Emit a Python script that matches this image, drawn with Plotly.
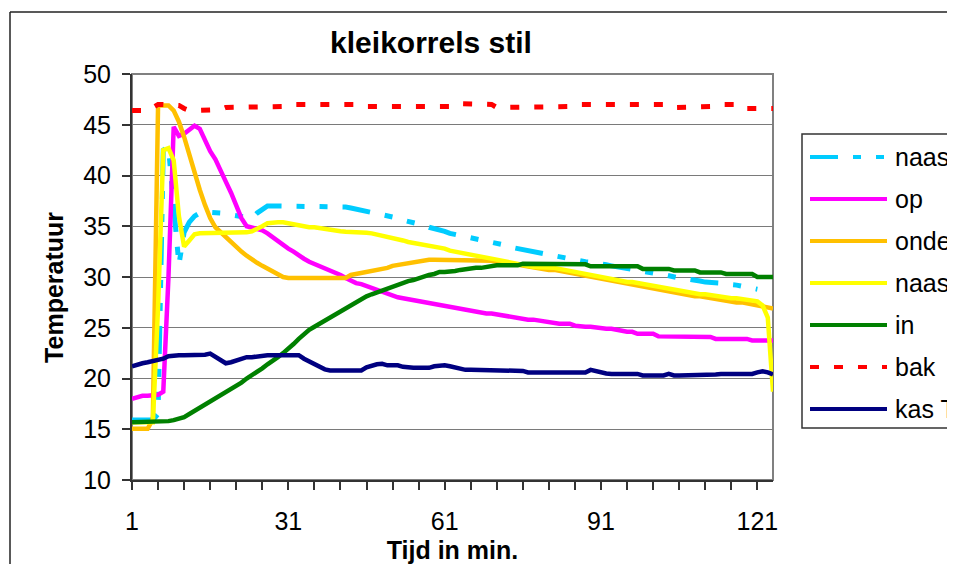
import plotly.graph_objects as go

# ---------------- data ----------------
minutes = list(range(1, 125))
x_tick_values = [1, 31, 61, 91, 121]
x_tick_labels = ["1", "31", "61", "91", "121"]
series_names = ["naast", "op", "onder", "naast", "in", "bak", "kas T"]

naast_1 = [
    15.9, 15.9, 15.9, 15.9, 15.9, 16.5, 42.5, 42.8, 36.5, 31.2,
    34.4, 35.4, 36.0, 36.3, 36.4, 36.4, 36.3, 36.3, 36.2, 36.1,
    36.0, 35.9, 35.8, 35.8, 36.3, 36.7, 37.0, 37.0, 37.0, 37.0,
    37.0, 37.0, 37.0, 37.0, 36.9, 36.9, 36.9, 36.9, 36.9, 36.9,
    36.9, 36.9, 36.8, 36.7, 36.6, 36.5, 36.4, 36.3, 36.2, 36.0,
    35.9, 35.8, 35.6, 35.5, 35.4, 35.2, 35.1, 34.9, 34.8, 34.6,
    34.5, 34.3, 34.2, 34.1, 34.0, 33.9, 33.8, 33.7, 33.6, 33.4,
    33.3, 33.2, 33.0, 32.9, 32.8, 32.6, 32.5, 32.4, 32.3, 32.2,
    32.2, 32.1, 32.0, 31.9, 31.7, 31.6, 31.6, 31.5, 31.45, 31.4,
    31.3, 31.2, 31.1, 31.0, 30.9, 30.8, 30.7, 30.65, 30.6, 30.5,
    30.4, 30.3, 30.25, 30.1, 30.0, 29.9, 29.85, 29.8, 29.7, 29.6,
    29.5, 29.5, 29.4, 29.4, 29.3, 29.3, 29.2, 29.1, 29.0, 28.9,
    28.8, None, None, None,
]
op = [
    18.0, 18.2, 18.3, 18.3, 18.3, 18.4, 18.7, 30.0, 44.8, 43.9,
    44.1, 44.5, 44.9, 44.6, 43.4, 42.4, 41.6, 40.6, 39.4, 38.3,
    37.0, 35.8, 35.0, 34.9, 34.8, 34.6, 34.3, 33.9, 33.5, 33.1,
    32.8, 32.5, 32.1, 31.8, 31.5, 31.3, 31.1, 30.9, 30.7, 30.4,
    30.2, 29.9, 29.6, 29.4, 29.3, 29.1, 28.9, 28.8, 28.6, 28.4,
    28.2, 28.0, 27.9, 27.8, 27.7, 27.6, 27.5, 27.4, 27.3, 27.2,
    27.1, 27.0, 26.9, 26.8, 26.7, 26.7, 26.6, 26.5, 26.4, 26.4,
    26.3, 26.3, 26.2, 26.05, 26.0, 25.9, 25.8, 25.8, 25.7, 25.6,
    25.6, 25.5, 25.4, 25.4, 25.4, 25.2, 25.1, 25.1, 25.1, 25.0,
    24.9, 24.9, 24.9, 24.8, 24.6, 24.6, 24.6, 24.4, 24.4, 24.4,
    24.4, 24.15, 24.15, 24.15, 24.15, 24.15, 24.15, 24.15, 24.15, 24.15,
    24.1, 24.1, 23.9, 23.9, 23.9, 23.9, 23.9, 23.9, 23.9, 23.75,
    23.75, 23.75, 23.75, 23.75,
]
onder = [
    15.05, 15.05, 15.05, 15.05, 16.0, 46.9, 46.9, 46.9, 46.4, 45.3,
    43.8, 42.0, 40.3, 38.6, 37.1, 35.8, 34.9, 34.4, 33.9, 33.4,
    32.9, 32.5, 32.1, 31.7, 31.4, 31.1, 30.8, 30.5, 30.2, 30.0,
    29.9, 29.9, 29.9, 29.9, 29.9, 29.9, 29.9, 29.9, 29.9, 29.9,
    29.9, 29.9, 30.2, 30.3, 30.3, 30.4, 30.5, 30.6, 30.8, 30.9,
    31.1, 31.2, 31.3, 31.4, 31.5, 31.6, 31.7, 31.7, 31.7, 31.7,
    31.7, 31.7, 31.7, 31.7, 31.7, 31.7, 31.7, 31.7, 31.7, 31.6,
    31.5, 31.5, 31.4, 31.3, 31.2, 31.1, 31.0, 30.9, 30.8, 30.8,
    30.7, 30.7, 30.6, 30.5, 30.4, 30.3, 30.2, 30.1, 30.0, 29.9,
    29.8, 29.7, 29.6, 29.5, 29.5, 29.4, 29.3, 29.2, 29.1, 29.0,
    28.9, 28.8, 28.7, 28.6, 28.5, 28.4, 28.3, 28.2, 28.1, 28.1,
    28.0, 27.9, 27.8, 27.7, 27.6, 27.6, 27.5, 27.5, 27.4, 27.4,
    27.3, 27.2, 27.0, 26.9,
]
naast_2 = [
    15.7, 15.7, 15.7, 15.7, 15.7, 27.0, 42.5, 42.7, 41.5, 36.0,
    33.0, 33.6, 34.2, 34.3, 34.3, 34.3, 34.3, 34.3, 34.3, 34.3,
    34.3, 34.3, 34.4, 34.5, 34.7, 35.0, 35.3, 35.4, 35.4, 35.4,
    35.3, 35.2, 35.0, 34.95, 34.9, 34.9, 34.8, 34.8, 34.7, 34.6,
    34.5, 34.45, 34.45, 34.45, 34.4, 34.35, 34.3, 34.2, 34.05, 33.95,
    33.8, 33.7, 33.6, 33.45, 33.35, 33.3, 33.2, 33.15, 33.0, 32.9,
    32.8, 32.6, 32.5, 32.4, 32.3, 32.1, 32.0, 31.95, 31.85, 31.8,
    31.7, 31.6, 31.5, 31.4, 31.3, 31.2, 31.05, 31.0, 30.95, 30.95,
    30.9, 30.9, 30.8, 30.7, 30.6, 30.5, 30.4, 30.3, 30.1, 30.0,
    30.0, 29.9, 29.8, 29.7, 29.6, 29.5, 29.5, 29.4, 29.3, 29.2,
    29.1, 29.0, 28.9, 28.8, 28.7, 28.65, 28.6, 28.5, 28.4, 28.3,
    28.3, 28.2, 28.1, 28.0, 28.0, 27.9, 27.9, 27.8, 27.8, 27.7,
    27.6, 27.2, 26.0, 18.7,
]
in_ = [
    15.7, 15.7, 15.7, 15.7, 15.7, 15.7, 15.7, 15.8, 15.9, 16.0,
    16.2, 16.5, 16.8, 17.1, 17.4, 17.7, 18.1, 18.4, 18.7, 19.0,
    19.3, 19.6, 20.0, 20.3, 20.6, 21.0, 21.4, 21.7, 22.1, 22.5,
    22.9, 23.4, 23.9, 24.4, 24.8, 25.1, 25.4, 25.7, 26.0, 26.4,
    26.7, 27.0, 27.3, 27.6, 27.9, 28.1, 28.3, 28.5, 28.7, 28.9,
    29.1, 29.3, 29.4, 29.6, 29.7, 29.9, 30.0, 30.2, 30.3, 30.5,
    30.5, 30.5, 30.6, 30.7, 30.8, 30.9, 30.9, 30.9, 31.0, 31.1,
    31.15, 31.15, 31.15, 31.15, 31.15, 31.3, 31.3, 31.3, 31.25, 31.25,
    31.25, 31.25, 31.25, 31.25, 31.25, 31.25, 31.25, 31.25, 31.05, 31.05,
    31.05, 31.05, 31.05, 31.05, 31.05, 31.05, 31.05, 31.05, 30.8, 30.8,
    30.8, 30.8, 30.8, 30.8, 30.65, 30.65, 30.65, 30.65, 30.65, 30.45,
    30.45, 30.45, 30.45, 30.45, 30.3, 30.3, 30.3, 30.3, 30.3, 30.3,
    30.0, 30.0, 30.0, 30.0,
]
bak = [
    46.4, 46.4, 46.4, 46.4, 46.7, 47.0, 47.0, 47.0, 47.0, 46.9,
    46.6, 46.4, 46.4, 46.4, 46.4, 46.5, 46.5, 46.5, 46.7, 46.7,
    46.7, 46.7, 46.8, 46.8, 46.8, 46.8, 46.8, 46.8, 46.8, 46.8,
    47.0, 47.0, 47.0, 47.0, 47.0, 47.0, 47.0, 47.0, 47.0, 47.0,
    47.0, 47.0, 47.0, 47.0, 47.0, 46.8, 46.8, 46.8, 46.8, 46.8,
    46.8, 46.8, 46.8, 46.8, 46.8, 46.8, 46.8, 46.8, 46.8, 46.8,
    46.8, 46.8, 47.1, 47.1, 47.1, 47.1, 47.0, 47.0, 47.0, 47.0,
    46.7, 46.7, 46.7, 46.7, 46.7, 46.8, 46.8, 46.8, 46.8, 46.8,
    46.8, 46.8, 46.8, 46.8, 46.8, 46.8, 47.0, 47.0, 47.0, 47.0,
    47.0, 47.0, 47.0, 47.0, 47.0, 47.0, 47.0, 47.0, 47.0, 47.0,
    47.0, 47.0, 47.0, 47.0, 46.7, 46.7, 46.7, 46.7, 46.8, 46.8,
    46.8, 46.8, 46.8, 47.0, 47.0, 47.0, 47.0, 47.0, 46.6, 46.6,
    46.6, 46.6, 46.6, 46.6,
]
kas_t = [
    21.2, 21.4, 21.5, 21.6, 21.7, 21.8, 21.95, 22.2, 22.3, 22.3,
    22.3, 22.3, 22.3, 22.3, 22.35, 22.45, 22.15, 21.8, 21.5, 21.6,
    21.8, 21.95, 22.1, 22.1, 22.2, 22.3, 22.3, 22.3, 22.3, 22.3,
    22.3, 22.3, 22.3, 21.95, 21.7, 21.4, 21.1, 20.9, 20.8, 20.8,
    20.8, 20.8, 20.8, 20.8, 20.8, 21.1, 21.3, 21.4, 21.45, 21.3,
    21.3, 21.3, 21.15, 21.05, 21.05, 21.05, 21.05, 21.05, 21.2, 21.3,
    21.3, 21.2, 21.05, 20.95, 20.85, 20.85, 20.85, 20.85, 20.85, 20.85,
    20.85, 20.85, 20.85, 20.85, 20.85, 20.75, 20.6, 20.6, 20.6, 20.6,
    20.6, 20.6, 20.6, 20.6, 20.6, 20.6, 20.6, 20.6, 20.85, 20.7,
    20.6, 20.5, 20.45, 20.45, 20.45, 20.45, 20.45, 20.45, 20.3, 20.3,
    20.3, 20.3, 20.3, 20.45, 20.3, 20.3, 20.3, 20.3, 20.3, 20.3,
    20.3, 20.3, 20.4, 20.45, 20.45, 20.45, 20.45, 20.45, 20.45, 20.45,
    20.6, 20.7, 20.6, 20.4,
]

series_values = [naast_1, op, onder, naast_2, in_, bak, kas_t]

# ---------------- styles ----------------
colors = ["#00CCFF", "#FF00FF", "#FFC000", "#FFFF00", "#008000", "#FF0000", "#000080"]
dashes = ["28px,15px,8px,15px,8px,15px", "solid", "solid", "solid", "solid", "9px,15px", "solid"]
widths = [5, 4.5, 4.5, 4.5, 4.5, 5, 4.5]

FONT = "Liberation Sans, Arial, Helvetica, sans-serif"
OFF = 8                          # the page body margin shifts the figure by 8 px
W, H = 955 - 2 * OFF, 556        # keep the page free of scrollbars
# plot area in window pixels
SPL, SPR, SPT, SPB = 132, 773, 74, 480
PL, PR, PT, PB = SPL - OFF, SPR - OFF, SPT - OFF, SPB - OFF


def px(xs):
    """window x pixel -> paper x"""
    return (xs - SPL) / (SPR - SPL)


def py(ys):
    """window y pixel -> paper y"""
    return (SPB - ys) / (SPB - SPT)


fig = go.Figure()
for name, vals, c, d, w in zip(series_names, series_values, colors, dashes, widths):
    fig.add_trace(go.Scatter(
        x=minutes, y=vals, name=name, mode="lines",
        line=dict(color=c, width=w, dash=d), connectgaps=False,
        showlegend=False,
    ))

shapes = [
    # plot-area border
    dict(type="rect", xref="paper", yref="paper", x0=0, x1=1, y0=0, y1=1,
         line=dict(color="#808080", width=2), layer="below"),
    # outer chart frame (cropped at right and bottom): left and top edges
    dict(type="line", xref="paper", yref="paper", x0=px(10), x1=px(10),
         y0=py(700), y1=py(12), line=dict(color="#222222", width=1.5), layer="above"),
    dict(type="line", xref="paper", yref="paper", x0=px(10), x1=px(1100),
         y0=py(12), y1=py(12), line=dict(color="#222222", width=1.5), layer="above"),
    # legend box (cropped at right)
    dict(type="rect", xref="paper", yref="paper", x0=px(802), x1=px(1100),
         y0=py(428), y1=py(134), line=dict(color="#333333", width=1.5),
         fillcolor="white", layer="above"),
]
annotations = []
row_y = [157, 199, 241, 283, 325, 367, 409]
for name, c, d, w, ry in zip(series_names, colors, dashes, widths, row_y):
    shapes.append(dict(type="line", xref="paper", yref="paper",
                       x0=px(810), x1=px(887), y0=py(ry), y1=py(ry),
                       line=dict(color=c, width=4, dash=d), layer="above"))
    annotations.append(dict(text=name, xref="paper", yref="paper",
                            x=px(893), y=py(ry), xanchor="left", yanchor="middle",
                            showarrow=False, font=dict(family=FONT, size=25, color="black")))

fig.update_layout(
    width=W, height=H,
    margin=dict(l=PL, r=W - PR, t=PT, b=H - PB, pad=0, autoexpand=False),
    paper_bgcolor="white", plot_bgcolor="white",
    font=dict(family=FONT, size=25, color="black"),
    showlegend=False,
    title=dict(text="<b>kleikorrels stil</b>", x=(431 - OFF) / W, xref="container",
               xanchor="center", y=1 - (42 - OFF) / H, yref="container", yanchor="middle",
               font=dict(family=FONT, size=30, color="black")),
    xaxis=dict(
        range=[1, 124], tickmode="array", tickvals=x_tick_values, ticktext=x_tick_labels,
        ticks="outside", ticklen=8, tickwidth=1.5, tickcolor="#333333",
        showline=True, linecolor="#333333", linewidth=2, showgrid=False, zeroline=False,
        minor=dict(tick0=1, dtick=5, ticks="outside", ticklen=8, tickwidth=1.5,
                   tickcolor="#333333", showgrid=False),
        tickfont=dict(size=25), ticklabelstandoff=10,
        title=dict(text="<b>Tijd in min.</b>", font=dict(size=25), standoff=16),
    ),
    yaxis=dict(
        range=[10, 50], tick0=10, dtick=5, ticks="outside", ticklen=8, tickwidth=1.5,
        tickcolor="#333333", showline=True, linecolor="#333333", linewidth=2,
        showgrid=True, gridcolor="#7a7a7a", gridwidth=1.2, zeroline=False,
        tickfont=dict(size=25), ticklabelstandoff=6,
        title=dict(text="<b>Temperatuur</b>&nbsp;&nbsp;&nbsp;", font=dict(size=25), standoff=12),
    ),
    shapes=shapes,
    annotations=annotations,
)

fig.write_html("out.html")
